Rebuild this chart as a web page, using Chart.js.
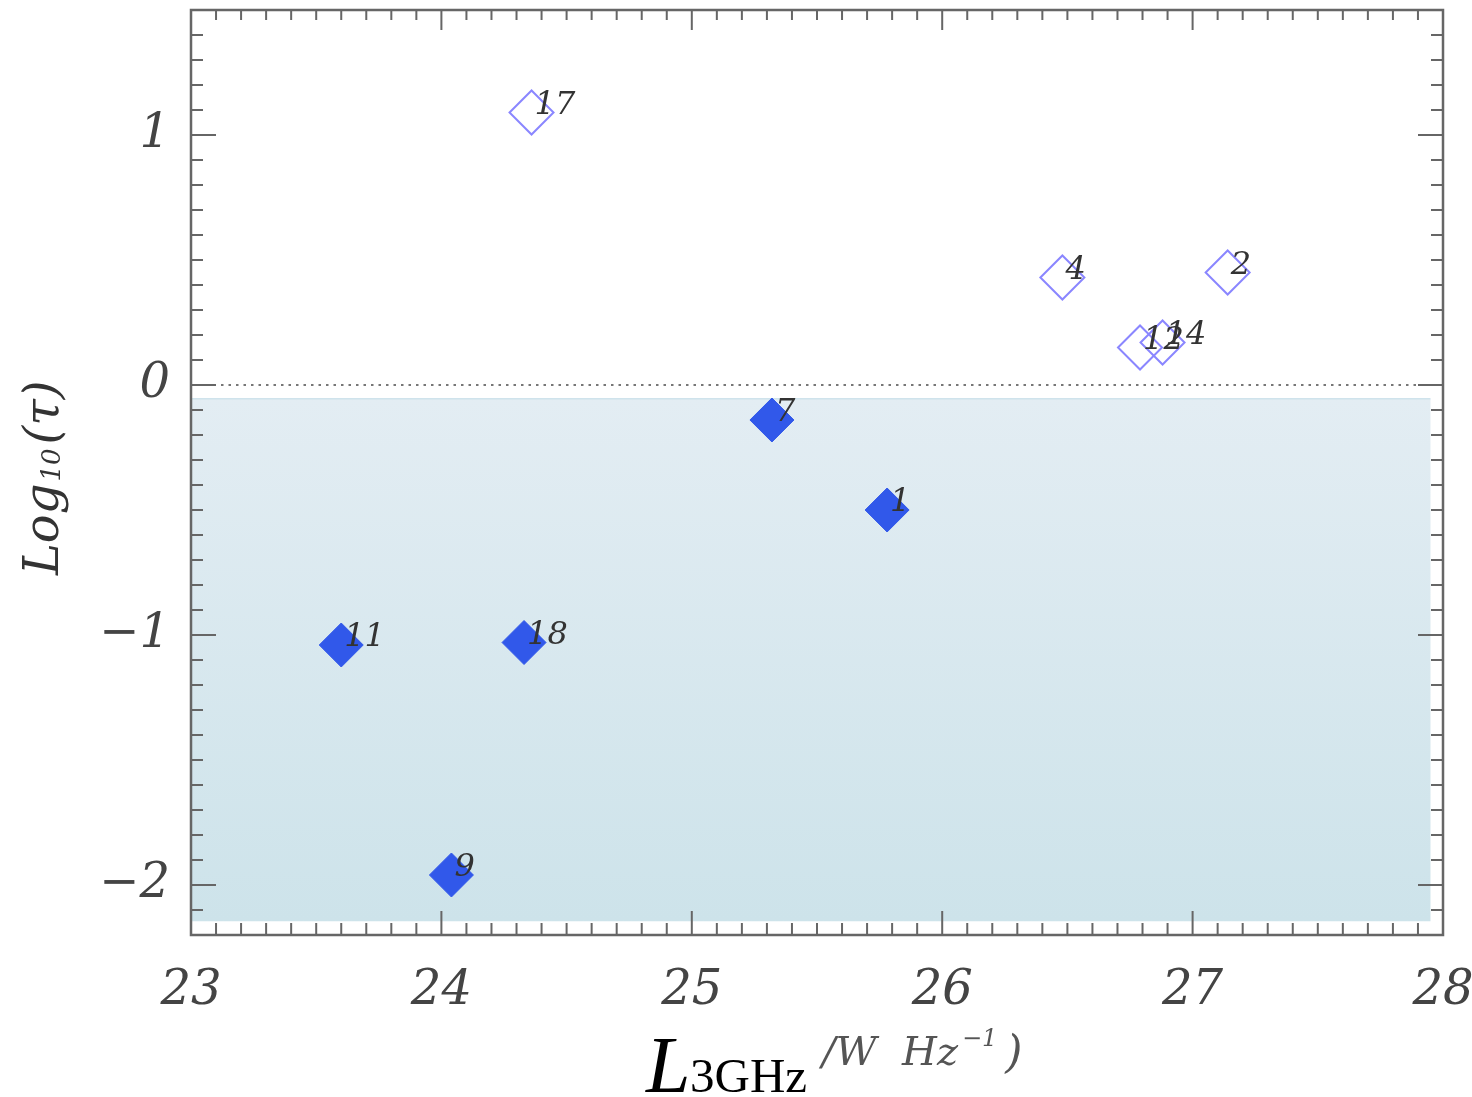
<!DOCTYPE html>
<html>
<head>
<meta charset="utf-8">
<script src="https://cdn.jsdelivr.net/npm/chart.js@4"></script>
<style>
  html, body { margin: 0; padding: 0; background: #fff; }
  #wrap { width: 1472px; height: 1097px; }
</style>
</head>
<body>
<div id="wrap"><canvas id="tauChart" width="1472" height="1097"></canvas></div>
<script>
// open diamonds (log tau > 0)
var openIds = ['17', '4', '2', '12', '14'];
var openLum = [24.36, 26.48, 27.14, 26.79, 26.88];
var openTau = [1.09, 0.43, 0.45, 0.15, 0.17];

// filled diamonds (log tau < 0)
var filledIds = ['7', '1', '11', '18', '9'];
var filledLum = [25.32, 25.78, 23.60, 24.33, 24.04];
var filledTau = [-0.14, -0.50, -1.04, -1.03, -1.96];

var xTicks = [23, 24, 25, 26, 27, 28];
var xTickLabels = ['23', '24', '25', '26', '27', '28'];
var yTicks = [-2, -1, 0, 1];
var yTickLabels = ['\u22122', '\u22121', '0', '1'];

// shaded band (data units)
var bandX = [23, 27.95];
var bandY = [-2.145, -0.055];

var serif = '"DejaVu Serif", serif';
var labelFont = 'italic 32px ' + serif;

function toPoints(xs, ys) {
    return xs.map(function (x, i) { return { x: x, y: ys[i] }; });
}

var bandPlugin = {
    id: 'band',
    beforeDatasetsDraw: function (chart) {
        var ctx = chart.ctx, xs = chart.scales.x, ys = chart.scales.y;
        var x0 = xs.getPixelForValue(bandX[0]), x1 = xs.getPixelForValue(bandX[1]);
        var y0 = ys.getPixelForValue(bandY[1]), y1 = ys.getPixelForValue(bandY[0]);
        ctx.save();
        var g = ctx.createLinearGradient(0, y0, 0, y1);
        g.addColorStop(0, '#e3edf3');
        g.addColorStop(1, '#cde3ea');
        ctx.fillStyle = g;
        ctx.fillRect(x0, y0, x1 - x0, y1 - y0);
        ctx.strokeStyle = '#cfe3ec';
        ctx.lineWidth = 1.5;
        ctx.beginPath();
        ctx.moveTo(x0, y0);
        ctx.lineTo(x1, y0);
        ctx.stroke();

        // dotted zero line
        var yz = ys.getPixelForValue(0);
        ctx.strokeStyle = '#777';
        ctx.lineWidth = 2;
        ctx.setLineDash([2.5, 5]);
        ctx.beginPath();
        ctx.moveTo(chart.chartArea.left, yz);
        ctx.lineTo(chart.chartArea.right, yz);
        ctx.stroke();
        ctx.restore();
    }
};

var frameTicksPlugin = {
    id: 'frameTicks',
    afterDatasetsDraw: function (chart) {
        var ctx = chart.ctx, a = chart.chartArea, xs = chart.scales.x, ys = chart.scales.y;
        ctx.save();
        ctx.strokeStyle = '#666';
        ctx.lineWidth = 2;
        ctx.beginPath();
        var v, p, len, k;
        for (k = 0; k <= 50; k++) {
            v = 23 + k * 0.1;
            p = xs.getPixelForValue(v);
            len = (k % 10 === 0) ? 24 : 12;
            ctx.moveTo(p, a.bottom); ctx.lineTo(p, a.bottom - len);
            ctx.moveTo(p, a.top); ctx.lineTo(p, a.top + (k % 10 === 0 ? 20 : 10));
        }
        for (k = 0; k <= 37; k++) {
            v = -2.2 + k * 0.1;
            p = ys.getPixelForValue(v);
            len = (Math.abs(v - Math.round(v)) < 1e-6) ? 25 : 12;
            ctx.moveTo(a.left, p); ctx.lineTo(a.left + len, p);
            ctx.moveTo(a.right, p); ctx.lineTo(a.right - len, p);
        }
        ctx.stroke();
        ctx.lineWidth = 2.5;
        ctx.strokeRect(a.left, a.top, a.right - a.left, a.bottom - a.top);

        // y tick labels
        ctx.font = 'italic 48px ' + serif;
        ctx.fillStyle = '#444';
        ctx.textAlign = 'right';
        ctx.textBaseline = 'middle';
        yTicks.forEach(function (t, i) {
            ctx.fillText(yTickLabels[i], a.left - 21, ys.getPixelForValue(t));
        });
        ctx.restore();
    }
};

var pointLabelsPlugin = {
    id: 'pointLabels',
    afterDatasetsDraw: function (chart) {
        var ctx = chart.ctx;
        var idSets = [openIds, filledIds];
        ctx.save();
        ctx.font = labelFont;
        ctx.fillStyle = '#333';
        ctx.textAlign = 'left';
        ctx.textBaseline = 'alphabetic';
        chart.data.datasets.forEach(function (ds, di) {
            chart.getDatasetMeta(di).data.forEach(function (pt, i) {
                ctx.fillText(idSets[di][i], pt.x + 3, pt.y + 1);
            });
        });
        ctx.restore();
    }
};

var titlesPlugin = {
    id: 'titles',
    afterDraw: function (chart) {
        var ctx = chart.ctx;
        ctx.save();
        // x title
        ctx.textBaseline = 'alphabetic';
        ctx.textAlign = 'left';
        ctx.fillStyle = '#000';
        ctx.font = 'italic 80px "Liberation Serif", serif';
        ctx.fillText('L', 646, 1092);
        ctx.font = '49px "Liberation Serif", serif';
        ctx.fillText('3GHz', 690, 1092);
        ctx.fillStyle = '#555';
        ctx.font = 'italic 40px ' + serif;
        ctx.fillText('/W  Hz', 822, 1065);
        var w = ctx.measureText('/W  Hz').width;
        ctx.font = 'italic 24px ' + serif;
        ctx.fillText('\u22121', 822 + w + 4, 1046);
        var w2 = ctx.measureText('\u22121').width;
        ctx.font = 'italic 44px ' + serif;
        ctx.fillText(')', 822 + w + w2 + 12, 1067);

        // y title
        ctx.translate(58, 575);
        ctx.rotate(-Math.PI / 2);
        ctx.fillStyle = '#333';
        ctx.font = 'italic 48px ' + serif;
        ctx.fillText('Log', 0, 0);
        var lw = ctx.measureText('Log').width;
        ctx.font = 'italic 26px ' + serif;
        ctx.fillText('10', lw + 2, 2);
        var sw = ctx.measureText('10').width;
        ctx.font = 'italic 48px ' + serif;
        ctx.fillText('(\u03c4)', lw + sw + 6, 0);
        ctx.restore();
    }
};

var ctx = document.getElementById('tauChart').getContext('2d');
var chart = new Chart(ctx, {
    type: 'scatter',
    data: {
        datasets: [{
            label: 'open',
            data: toPoints(openLum, openTau),
            pointStyle: 'rectRot',
            pointRadius: 22,
            pointBackgroundColor: 'rgba(255,255,255,0)',
            pointBorderColor: '#8a86ff',
            pointBorderWidth: 2
        }, {
            label: 'filled',
            data: toPoints(filledLum, filledTau),
            pointStyle: 'rectRot',
            pointRadius: 22,
            pointBackgroundColor: '#3158ea',
            pointBorderColor: '#3158ea',
            pointBorderWidth: 1
        }]
    },
    options: {
        responsive: false,
        animation: false,
        layout: { autoPadding: false, padding: { left: 0, top: 10, right: 29, bottom: 0 } },
        plugins: {
            legend: { display: false },
            tooltip: { enabled: false }
        },
        scales: {
            x: {
                type: 'linear',
                min: 23,
                max: 28,
                afterBuildTicks: function (s) { s.ticks = xTicks.map(function (v) { return { value: v }; }); },
                afterFit: function (s) { s.height = 162; s.paddingLeft = 0; s.paddingRight = 0; },
                grid: { display: false },
                border: { display: false },
                ticks: {
                    font: { family: serif, size: 48, style: 'italic' },
                    color: '#444',
                    padding: 20,
                    maxRotation: 0,
                    autoSkip: false,
                    callback: function (v) { return xTickLabels[xTicks.indexOf(v)]; }
                }
            },
            y: {
                type: 'linear',
                min: -2.2,
                max: 1.5,
                afterBuildTicks: function (s) { s.ticks = yTicks.map(function (v) { return { value: v }; }); },
                afterFit: function (s) { s.width = 191; },
                grid: { display: false },
                border: { display: false },
                ticks: { display: false }
            }
        }
    },
    plugins: [bandPlugin, frameTicksPlugin, pointLabelsPlugin, titlesPlugin]
});
</script>
</body>
</html>
